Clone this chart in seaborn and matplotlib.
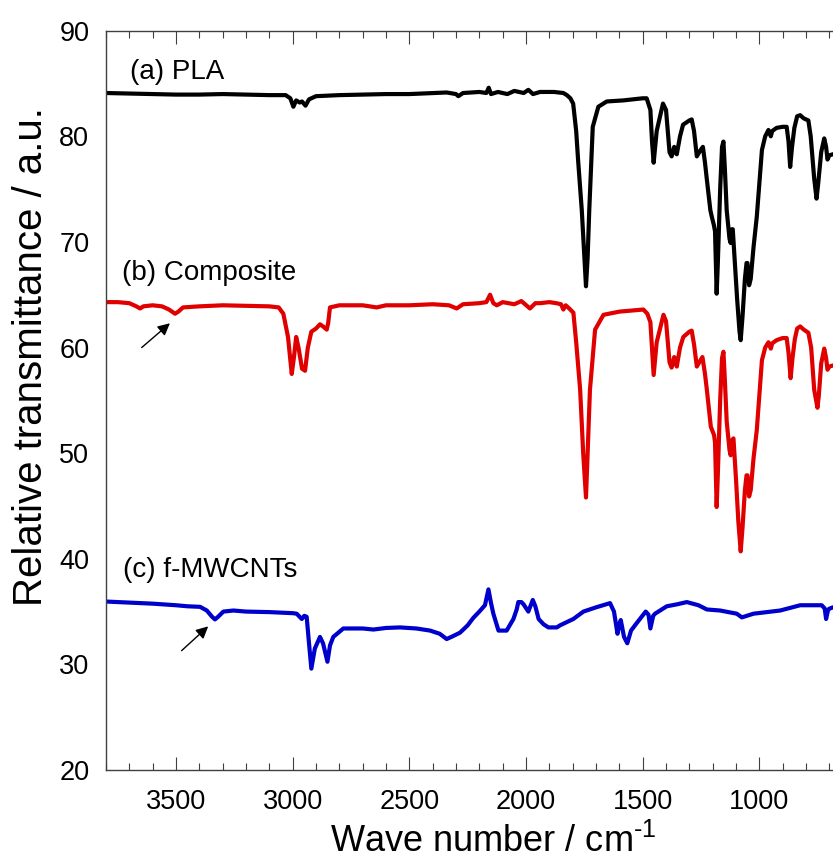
import numpy as np
import pandas as pd
import matplotlib
matplotlib.use("Agg")
import matplotlib.pyplot as plt
import seaborn as sns

# ---------------- data ----------------
pla_wn = [3800, 3700, 3600, 3500, 3400, 3300, 3200, 3100, 3030, 3010, 2997, 2985, 2970, 2960,
          2945, 2930, 2900, 2850, 2800, 2700, 2600, 2500, 2400, 2340, 2300, 2290, 2270, 2200,
          2170, 2160, 2150, 2120, 2080, 2050, 2010, 1990, 1970, 1940, 1880, 1840, 1825, 1810,
          1798, 1785, 1777, 1761, 1750, 1743, 1736, 1729, 1714, 1690, 1654, 1583, 1500, 1483,
          1467, 1460, 1453, 1440, 1413, 1400, 1385, 1376, 1365, 1360, 1354, 1340, 1327, 1300,
          1290, 1280, 1268, 1255, 1242, 1233, 1225, 1210, 1204, 1195, 1190, 1183, 1178, 1168,
          1160, 1154, 1148, 1140, 1133, 1128, 1123, 1118, 1114, 1105, 1095, 1085, 1080, 1072,
          1062, 1055, 1051, 1044, 1037, 1025, 1011, 1000, 989, 975, 961, 951, 945, 926, 900,
          883, 875, 868, 860, 850, 838, 825, 810, 790, 780, 765, 755, 748, 735, 722, 714, 708,
          700, 685, 670]
pla_t = [84.1, 84.05, 84.0, 83.95, 83.95, 84.0, 83.95, 83.9, 83.9, 83.6, 82.8, 83.4, 83.2, 83.3,
         82.9, 83.5, 83.8, 83.85, 83.9, 83.95, 84.0, 84.0, 84.1, 84.15, 84.0, 83.8, 84.1, 84.2,
         84.1, 84.6, 84.0, 84.2, 84.0, 84.3, 84.1, 84.4, 84.0, 84.2, 84.2, 84.1, 83.9, 83.6,
         83.1, 80.5, 77.8, 73.0, 68.5, 65.8, 68.5, 73.0, 80.9, 82.8, 83.3, 83.4, 83.6, 83.6,
         82.5, 79.5, 77.5, 80.5, 83.1, 82.5, 78.5, 78.1, 79.0, 78.5, 78.3, 80.0, 81.1, 81.5,
         81.6, 80.5, 78.1, 78.6, 79.0, 77.5, 75.9, 73.0, 72.4, 71.6, 71.0, 65.1, 68.0, 75.0,
         79.0, 79.5, 77.0, 73.0, 71.4, 70.3, 69.9, 71.2, 71.2, 68.0, 64.5, 61.5, 60.7, 63.0,
         66.5, 68.0, 68.0, 65.9, 66.5, 69.5, 72.4, 75.5, 78.7, 80.0, 80.6, 80.0, 80.5, 80.8, 80.9,
         80.9, 79.5, 77.1, 79.0, 80.8, 81.9, 82.0, 81.7, 81.5, 80.0, 76.0, 74.1, 75.5, 78.5, 79.8,
         79.0, 77.8, 78.2, 78.3, 78.3]

comp_wn = [3800, 3750, 3700, 3670, 3654, 3640, 3600, 3560, 3530, 3504, 3490, 3470, 3400, 3300,
           3200, 3100, 3060, 3040, 3020, 3004, 2995, 2985, 2975, 2960, 2947, 2935, 2920, 2900,
           2883, 2870, 2854, 2848, 2840, 2800, 2700, 2640, 2600, 2500, 2400, 2330, 2297, 2270,
           2200, 2170, 2154, 2140, 2125, 2100, 2050, 2020, 1983, 1960, 1940, 1900, 1870, 1850,
           1840, 1830, 1815, 1797, 1785, 1768, 1755, 1743, 1735, 1726, 1704, 1668, 1600, 1497,
           1480, 1467, 1453, 1440, 1411, 1400, 1385, 1376, 1365, 1360, 1354, 1340, 1326, 1300,
           1290, 1280, 1268, 1255, 1244, 1233, 1225, 1208, 1194, 1190, 1183, 1178, 1168, 1160,
           1154, 1148, 1140, 1133, 1128, 1123, 1118, 1111, 1100, 1090, 1080, 1072, 1062, 1055,
           1051, 1044, 1037, 1025, 1011, 1000, 989, 975, 961, 951, 945, 926, 900, 883, 875, 866,
           858, 848, 838, 825, 810, 790, 778, 765, 751, 745, 735, 722, 714, 708, 700, 685, 670]
comp_t = [64.3, 64.3, 64.2, 63.9, 63.7, 63.9, 64.0, 63.9, 63.6, 63.2, 63.4, 63.8, 63.9, 64.0,
          63.95, 63.9, 63.8, 63.2, 61.0, 57.5, 59.0, 61.0, 60.0, 58.0, 57.8, 60.0, 61.5, 61.8,
          62.2, 62.0, 61.7, 62.3, 63.8, 64.0, 64.0, 63.8, 64.0, 64.0, 64.1, 64.0, 63.7, 64.1,
          64.2, 64.3, 65.0, 64.2, 64.0, 64.3, 64.1, 64.4, 63.7, 64.2, 64.2, 64.3, 64.2, 64.1,
          63.6, 64.0, 63.7, 63.3, 60.5, 56.0, 50.0, 45.8, 50.5, 56.0, 61.7, 63.1, 63.4, 63.6,
          63.2, 62.4, 57.4, 60.5, 63.1, 62.5, 58.6, 58.1, 59.1, 58.8, 58.2, 60.0, 61.0, 61.5,
          61.6, 60.3, 58.2, 58.7, 59.1, 57.5, 56.0, 52.5, 51.7, 51.0, 44.9, 48.0, 55.0, 59.0,
          59.6, 57.0, 53.0, 51.4, 50.3, 49.8, 51.2, 51.4, 47.5, 43.5, 40.7, 43.0, 46.5, 47.9,
          47.9, 45.9, 46.5, 49.5, 52.2, 55.5, 58.8, 60.0, 60.5, 59.9, 60.4, 60.7, 60.9, 60.9, 59.5, 57.1,
          59.0, 60.8, 61.8, 62.0, 61.7, 61.4, 60.0, 56.0, 54.3, 55.5, 58.5, 59.9, 59.0, 57.9, 58.2, 58.3, 58.3]

cnt_wn = [3800, 3750, 3700, 3600, 3500, 3450, 3397, 3368, 3345, 3333, 3320, 3297, 3254, 3200,
          3100, 3000, 2983, 2961, 2950, 2940, 2930, 2920, 2905, 2883, 2870, 2851, 2840, 2826,
          2783, 2700, 2654, 2600, 2540, 2470, 2411, 2370, 2340, 2320, 2283, 2250, 2226, 2200,
          2176, 2161, 2150, 2140, 2118, 2083, 2054, 2040, 2033, 2020, 2011, 1990, 1971, 1960,
          1946, 1925, 1904, 1868, 1854, 1797, 1754, 1700, 1640, 1623, 1608, 1600, 1594, 1580,
          1566, 1550, 1526, 1487, 1475, 1467, 1455, 1447, 1397, 1350, 1311, 1261, 1225, 1168,
          1097, 1075, 1025, 911, 825, 733, 720, 714, 705, 697, 685, 670]
cnt_t = [35.95, 35.9, 35.85, 35.75, 35.6, 35.5, 35.45, 35.1, 34.5, 34.26, 34.5, 35.0, 35.1, 35.0,
         34.95, 34.85, 34.8, 34.3, 34.6, 34.5, 32.0, 29.6, 31.5, 32.6, 32.0, 30.25, 31.8, 32.6,
         33.4, 33.4, 33.3, 33.45, 33.5, 33.4, 33.2, 32.9, 32.4, 32.6, 33.0, 33.7, 34.4, 35.0,
         35.6, 37.1, 35.8, 34.8, 33.2, 33.2, 34.3, 35.2, 35.9, 35.9, 35.7, 35.0, 36.1, 35.5,
         34.3, 33.8, 33.5, 33.5, 33.7, 34.3, 35.0, 35.4, 35.8, 35.0, 32.9, 33.8, 34.2, 32.6,
         32.0, 33.2, 33.9, 35.0, 34.7, 33.4, 34.6, 34.8, 35.5, 35.7, 35.9, 35.6, 35.2, 35.1,
         34.8, 34.45, 34.8, 35.1, 35.6, 35.6, 35.3, 34.3, 35.2, 35.3, 35.4, 35.4]

series_names = ["(a) PLA", "(b) Composite", "(c) f-MWCNTs"]
series_colors = ["#000000", "#e00000", "#0000cc"]
label_pos = [(3697, 86.1), (3733, 67.1), (3726, 38.9)]
arrow_tail = [(3647, 60.0), (3476, 31.3)]
arrow_head = [(3526, 62.3), (3362, 33.6)]

x_ticks = [3500, 3000, 2500, 2000, 1500, 1000]
y_ticks = [20, 30, 40, 50, 60, 70, 80, 90]

# ---------------- figure ----------------
sns.set_theme(style="ticks")
plt.rcParams["font.family"] = ["Liberation Sans", "DejaVu Sans"]
plt.rcParams["mathtext.fontset"] = "custom"
plt.rcParams["mathtext.rm"] = "Liberation Sans"
plt.rcParams["mathtext.it"] = "Liberation Sans"
for k in ["text.color", "axes.labelcolor", "xtick.labelcolor", "ytick.labelcolor"]:
    plt.rcParams[k] = "black"

df = pd.concat([
    pd.DataFrame({"wn": pla_wn, "T": pla_t, "s": series_names[0]}),
    pd.DataFrame({"wn": comp_wn, "T": comp_t, "s": series_names[1]}),
    pd.DataFrame({"wn": cnt_wn, "T": cnt_t, "s": series_names[2]}),
], ignore_index=True)

W, H = 833, 861
fig = plt.figure(figsize=(W / 100, H / 100), dpi=100)
ax = fig.add_axes([106 / W, 91 / H, (852.7 - 106) / W, (770 - 30.7) / H])

sns.lineplot(data=df, x="wn", y="T", hue="s", palette=series_colors,
             estimator=None, sort=False, linewidth=3, legend=False, ax=ax)

ax.set_xlim(3800, 600)
ax.set_ylim(20, 90)
ax.set_xticks(x_ticks)
ax.set_xticks(np.arange(600, 3801, 100), minor=True)
ax.set_yticks(y_ticks)
ax.tick_params(axis="x", which="major", direction="in", length=9.5, width=0.8,
               top=True, bottom=True, labelsize=19.5, pad=14, color="#404040",
               labelcolor="black")
ax.tick_params(axis="x", which="minor", direction="in", length=5, width=0.8,
               top=True, bottom=True, color="#404040")
ax.tick_params(axis="y", which="both", length=0, labelsize=19.5, pad=12,
               labelcolor="black")

for sp in ax.spines.values():
    sp.set_color("#404040")
    sp.set_linewidth(1.0)
ax.spines["right"].set_visible(False)

ax.set_xlabel(r"Wave number / cm$^{\text{-1}}$", fontsize=26, color="black")
ax.xaxis.set_label_coords((493 - 106) / 746.7, (770 - 824) / 739.3)
ax.set_ylabel("Relative transmittance / a.u.", fontsize=29, color="black")
ax.yaxis.set_label_coords((50 - 106) / 746.7, (770 - 357) / 739.3)

for name, (lx, ly) in zip(series_names, label_pos):
    ax.text(lx, ly, name, fontsize=20, ha="left", va="center", color="black")

for (tx, ty), (hx, hy) in zip(arrow_tail, arrow_head):
    ax.annotate("", xy=(hx, hy), xytext=(tx, ty),
                arrowprops=dict(arrowstyle="-|>", color="black", lw=1.0,
                                mutation_scale=18, shrinkA=0, shrinkB=0))

fig.savefig("out.png", dpi=100)
